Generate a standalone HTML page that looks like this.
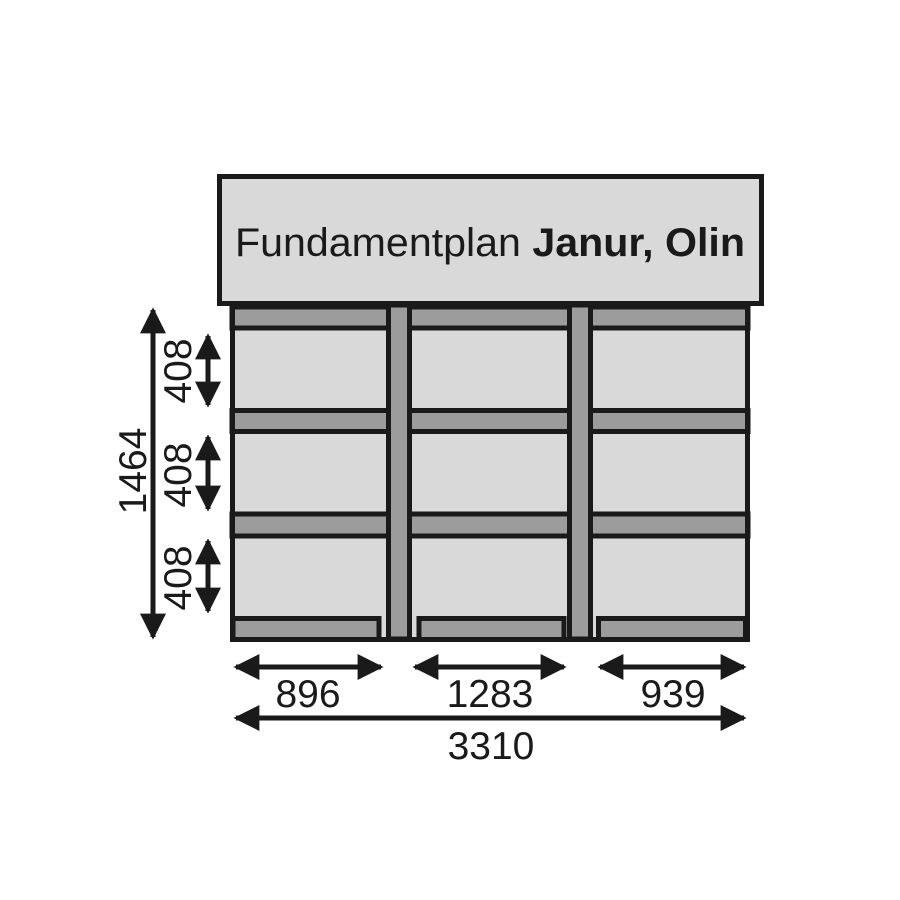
<!DOCTYPE html>
<html><head><style>
body{margin:0;background:#fff;}
svg{display:block;}
text{font-family:"Liberation Sans",Arial,sans-serif;fill:#1a1a1a;}
</style></head><body>
<svg width="900" height="900" viewBox="0 0 900 900" xmlns="http://www.w3.org/2000/svg">
<defs>
<marker id="a" viewBox="0 0 10 10" refX="9" refY="5" markerWidth="6.2" markerHeight="5.2" orient="auto-start-reverse" markerUnits="strokeWidth">
<path d="M0,0 L10,5 L0,10 z" fill="#1a1a1a"/></marker>
</defs>
<rect x="219.5" y="176.5" width="542" height="127" fill="#d9d9d9" stroke="#1a1a1a" stroke-width="5"/>
<text x="490" y="256" font-size="40" text-anchor="middle" textLength="510" lengthAdjust="spacingAndGlyphs">Fundamentplan <tspan font-weight="bold">Janur, Olin</tspan></text>
<rect x="232.5" y="305" width="515" height="334.5" fill="#d9d9d9" stroke="#1a1a1a" stroke-width="5"/>
<g fill="#9c9c9c" stroke="#1a1a1a" stroke-width="5">
<rect x="232" y="307" width="516" height="21"/>
<rect x="232" y="410.5" width="516" height="21"/>
<rect x="232" y="514" width="516" height="22"/>
<rect x="388.5" y="305" width="21" height="334"/>
<rect x="569.5" y="305" width="21" height="334"/>
<rect x="233" y="618.5" width="146" height="21"/>
<rect x="419" y="618.5" width="145" height="21"/>
<rect x="598.5" y="618.5" width="147" height="21"/>
</g>
<rect x="232.5" y="305" width="515" height="334.5" fill="none" stroke="#1a1a1a" stroke-width="5"/>
<g stroke="#1a1a1a" stroke-width="5" marker-start="url(#a)" marker-end="url(#a)">
<line x1="153" y1="310" x2="153" y2="637"/>
<line x1="208" y1="336" x2="208" y2="405"/>
<line x1="208" y1="437" x2="208" y2="509"/>
<line x1="208" y1="541" x2="208" y2="611"/>
<line x1="236" y1="667" x2="381" y2="667"/>
<line x1="415" y1="667" x2="564" y2="667"/>
<line x1="600" y1="667" x2="744" y2="667"/>
<line x1="236" y1="718" x2="744" y2="718"/>
</g>
<g font-size="39" text-anchor="middle">
<text x="308" y="707">896</text>
<text x="490" y="707">1283</text>
<text x="673" y="707">939</text>
<text x="491" y="759">3310</text>
<text transform="translate(146,471) rotate(-90)">1464</text>
<text transform="translate(191,371) rotate(-90)">408</text>
<text transform="translate(191,475) rotate(-90)">408</text>
<text transform="translate(191,578) rotate(-90)">408</text>
</g>
</svg>
</body></html>
